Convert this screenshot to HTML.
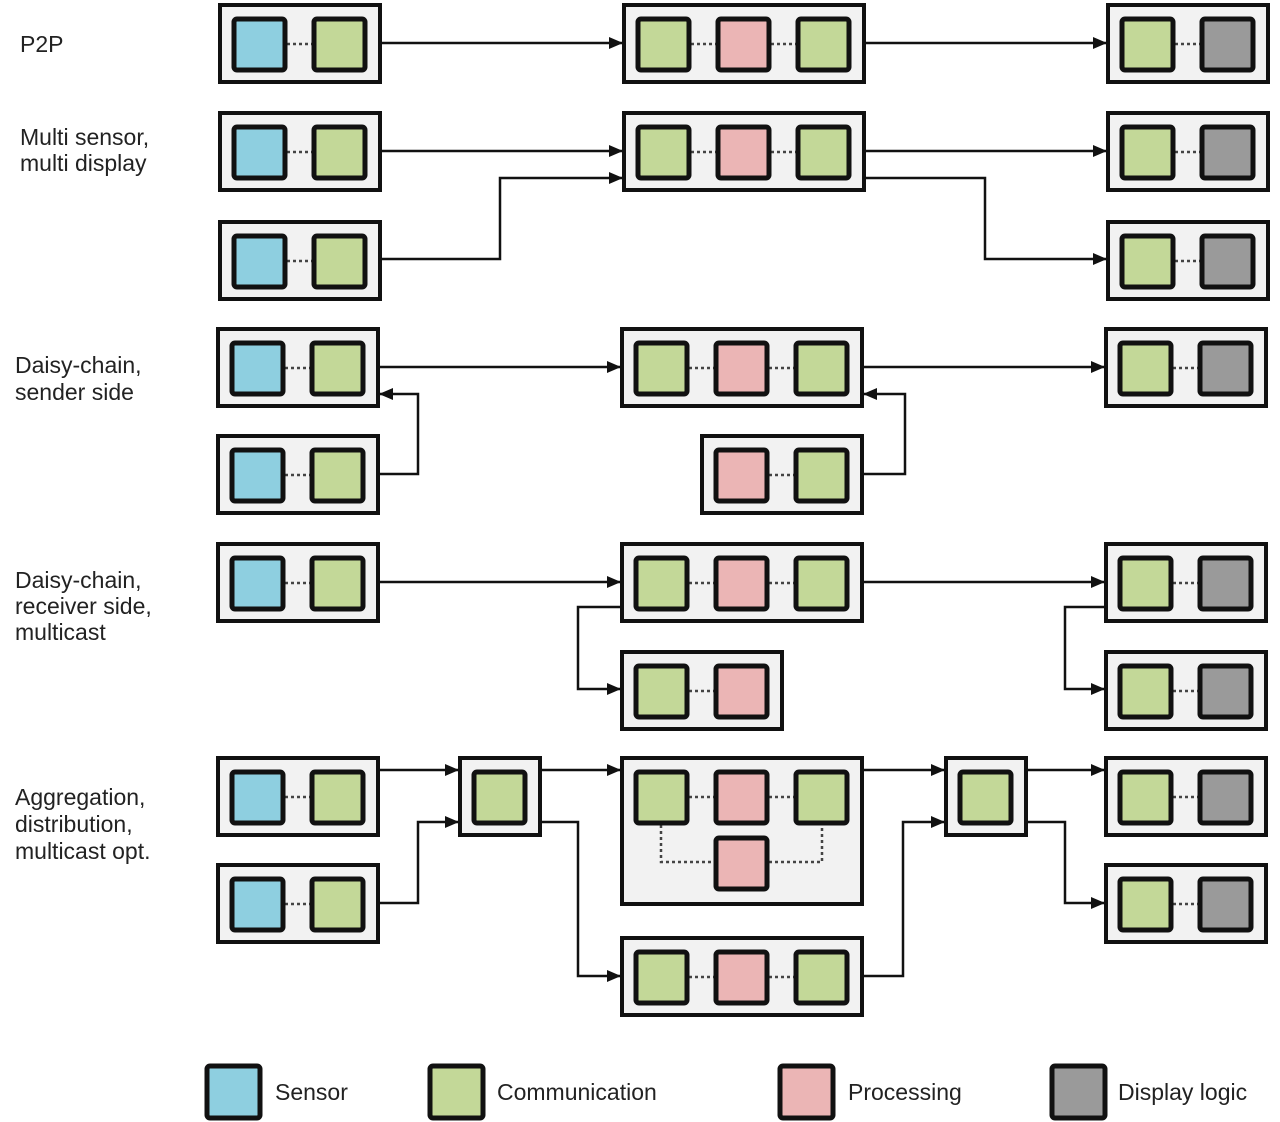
<!DOCTYPE html>
<html><head><meta charset="utf-8"><style>
html,body{margin:0;padding:0;background:#fff;width:1280px;height:1122px;overflow:hidden}
svg text{font-family:"Liberation Sans",sans-serif;font-size:23px;fill:#222}
</style></head><body>
<svg id="s" width="1280" height="1122" viewBox="0 0 1280 1122" xmlns="http://www.w3.org/2000/svg">
<defs><marker id="a" markerWidth="14" markerHeight="12" refX="13" refY="6" orient="auto" markerUnits="userSpaceOnUse"><path d="M0,0 L14,6 L0,12 z" fill="#111"/></marker></defs>
<g id="lines" fill="none" stroke="#111" stroke-width="2.5"></g>
<g id="boxes"></g>
<text x="20" y="52">P2P</text>
<text x="20" y="145">Multi sensor,</text><text x="20" y="171">multi display</text>
<text x="15" y="373">Daisy-chain,</text><text x="15" y="400">sender side</text>
<text x="15" y="588">Daisy-chain,</text><text x="15" y="614">receiver side,</text><text x="15" y="640">multicast</text>
<text x="15" y="805">Aggregation,</text><text x="15" y="832">distribution,</text><text x="15" y="859">multicast opt.</text>
<text x="275" y="1100" font-size="24">Sensor</text>
<text x="497" y="1100" font-size="24">Communication</text>
<text x="848" y="1100" font-size="24">Processing</text>
<text x="1118" y="1100" font-size="24">Display logic</text>
</svg>
<script>
var C={b:"#8ecfe0",g:"#c3d898",p:"#ebb5b5",d:"#9a9a9a"};
var B=document.getElementById('boxes'),L=document.getElementById('lines'),h='';
function sq(x,y,c){h+='<rect x="'+(x+2)+'" y="'+(y+2)+'" width="51" height="51" rx="3" fill="'+C[c]+'" stroke="#111" stroke-width="5"/>';}
function box(x,y,w,hh,cs){h+='<rect x="'+(x+2)+'" y="'+(y+2)+'" width="'+(w-4)+'" height="'+(hh-4)+'" fill="#f2f2f2" stroke="#111" stroke-width="4"/>';
 var n=cs.length,sy=y+14;
 for(var i=0;i<n;i++){var sx=x+14+i*80; if(i>0)h+='<line x1="'+(sx-25)+'" y1="'+(sy+27)+'" x2="'+sx+'" y2="'+(sy+27)+'" stroke="#444" stroke-width="2.5" stroke-dasharray="3,3"/>';}
 for(var i=0;i<n;i++)sq(x+14+i*80,sy,cs[i]);}
box(218,3,164,81,"bg");box(622,3,244,81,"gpg");box(1106,3,164,81,"gd");
box(218,111,164,81,"bg");box(622,111,244,81,"gpg");box(1106,111,164,81,"gd");
box(218,220,164,81,"bg");box(1106,220,164,81,"gd");
box(216,327,164,81,"bg");box(620,327,244,81,"gpg");box(1104,327,164,81,"gd");
box(216,434,164,81,"bg");box(700,434,164,81,"pg");
box(216,542,164,81,"bg");box(620,542,244,81,"gpg");box(1104,542,164,81,"gd");
box(620,650,164,81,"gp");box(1104,650,164,81,"gd");
box(216,756,164,81,"bg");box(458,756,84,81,"g");box(944,756,84,81,"g");box(1104,756,164,81,"gd");
box(216,863,164,81,"bg");box(1104,863,164,81,"gd");
box(620,936,244,81,"gpg");
// big box
h+='<rect x="622" y="758" width="240" height="146" fill="#f2f2f2" stroke="#111" stroke-width="4"/>';
h+='<path d="M661,825 V862 H714 M769,862 H822 V825" fill="none" stroke="#444" stroke-width="2.5" stroke-dasharray="3,3"/>';
h+='<line x1="689" y1="797" x2="714" y2="797" stroke="#444" stroke-width="2.5" stroke-dasharray="3,3"/><line x1="769" y1="797" x2="794" y2="797" stroke="#444" stroke-width="2.5" stroke-dasharray="3,3"/>';
sq(634,770,'g');sq(714,770,'p');sq(794,770,'g');sq(714,836,'p');
B.innerHTML=h;
var P=["M382,43 H622","M866,43 H1106",
"M382,151 H622","M382,259 H500 V178 H622","M866,151 H1106","M866,178 H985 V259 H1106",
"M380,367 H620","M864,367 H1104","M380,474 H418 V394 H380","M864,474 H905 V394 H864",
"M380,582 H620","M864,582 H1104","M620,607 H578 V689 H620","M1104,607 H1065 V689 H1104",
"M380,770 H458","M380,903 H418 V822 H458","M542,770 H620","M542,822 H578 V976 H620",
"M864,770 H944","M864,976 H903 V822 H944","M1028,770 H1104","M1028,822 H1065 V903 H1104"];
var s='';P.forEach(function(d,i){var noArrow=(i==12||i==13)&&false;s+='<path d="'+d+'" marker-end="url(#a)"/>';});
L.innerHTML=s;
// legend
var lg='';[[205,'b'],[428,'g'],[778,'p'],[1050,'d']].forEach(function(q){lg+='<rect x="'+(q[0]+2)+'" y="1066" width="53" height="52" rx="3" fill="'+C[q[1]]+'" stroke="#111" stroke-width="5"/>';});
B.innerHTML+=lg;
</script>
</body></html>
